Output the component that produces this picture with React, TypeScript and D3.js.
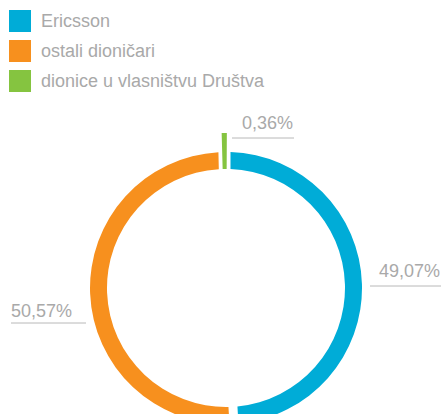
import React from "react";
import * as d3 from "d3";

const categories = ["Ericsson", "ostali dioničari", "dionice u vlasništvu Društva"];
const values = [49.07, 50.57, 0.36];
const valueLabels = ["49,07%", "50,57%", "0,36%"];
const colors = ["#00acd7", "#f7901e", "#85c440"];

const W = 441;
const H = 414;
const cx = 226;
const cy = 288;
const outerR = 136;
const innerR = 119;
const spikeR = 155;
const gapPx = 9;
const textColor = "#a9a9a9";
const lineColor = "#b8b8b8";
const font = "'Liberation Sans', Arial, sans-serif";

export default function App() {
  const pie = d3.pie<number>().sort(null).startAngle(0).endAngle(2 * Math.PI).value((d) => d);
  const arcs = pie(values);
  const arcGen = d3
    .arc<d3.PieArcDatum<number>>()
    .innerRadius(innerR)
    .outerRadius(outerR)
    .padRadius(100)
    .padAngle(gapPx / 100);

  // thin slice drawn without padding, widened to stay visible
  const thin = arcs[2];
  const thinMid = (thin.startAngle + thin.endAngle) / 2;
  const thinHalf = Math.max((thin.endAngle - thin.startAngle) / 2, 2.3 / 137);
  const thinPath = d3.arc()({
    innerRadius: innerR,
    outerRadius: spikeR,
    startAngle: thinMid - thinHalf,
    endAngle: thinMid + thinHalf,
  }) as string;

  const labelLayout = arcs.map((a, i) => {
    const mid = (a.startAngle + a.endAngle) / 2;
    const right = Math.sin(mid) >= 0;
    if (i === 2) {
      const y = cy - 150;
      return { x1: cx + 6, x2: cx + 68, y, tx: cx + 16, ty: y - 9 };
    }
    if (right) {
      const y = cy - 2;
      return { x1: cx + outerR + 8, x2: W, y, tx: cx + outerR + 17, ty: y - 9 };
    }
    const y = cy + 35;
    return { x1: 11, x2: cx - outerR - 4, y, tx: 11, ty: y - 6 };
  });

  return (
    <svg width={W} height={H} style={{ position: "absolute", left: 0, top: 0 }}>
      <rect width={W} height={H} fill="#ffffff" />
      {categories.map((c, i) => (
        <g key={c} transform={`translate(9, ${10 + i * 30})`}>
          <rect width={22} height={22} fill={colors[i]} />
          <text x={32} y={17} fontFamily={font} fontSize={18} fill={textColor}>
            {c}
          </text>
        </g>
      ))}
      <g transform={`translate(${cx}, ${cy})`}>
        {arcs.slice(0, 2).map((a, i) => (
          <path key={i} d={arcGen(a) as string} fill={colors[i]} />
        ))}
        <path d={thinPath} fill={colors[2]} />
      </g>
      {labelLayout.map((l, i) => (
        <g key={i}>
          <line x1={l.x1} x2={l.x2} y1={l.y} y2={l.y} stroke={lineColor} strokeWidth={1} />
          <text x={l.tx} y={l.ty} fontFamily={font} fontSize={18} fill={textColor}>
            {valueLabels[i]}
          </text>
        </g>
      ))}
    </svg>
  );
}
